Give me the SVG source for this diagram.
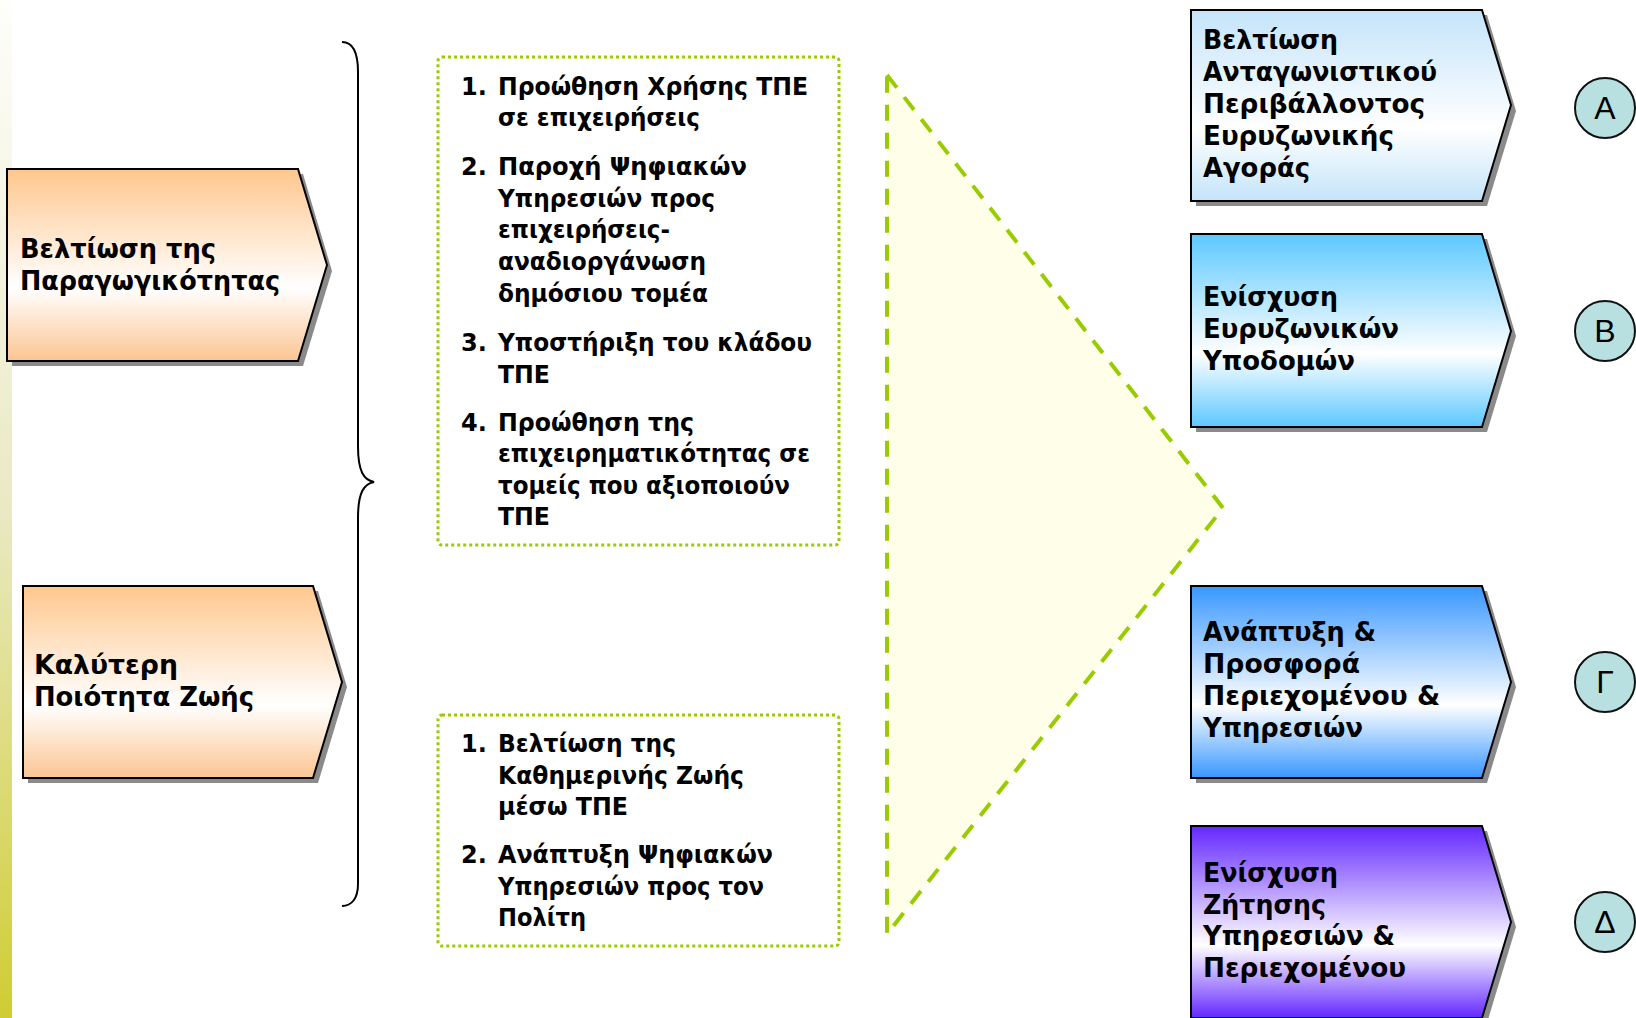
<svg xmlns="http://www.w3.org/2000/svg" width="1636" height="1018" viewBox="0 0 1636 1018">
  <defs>
    <linearGradient id="strip" x1="0" y1="0" x2="0" y2="1">
      <stop offset="0" stop-color="#fefefb"/>
      <stop offset="0.5" stop-color="#e9e9c4"/>
      <stop offset="1" stop-color="#cfcd32"/>
    </linearGradient>
    <linearGradient id="gOrange" x1="0" y1="0" x2="0" y2="1">
      <stop offset="0" stop-color="#ffc78e"/>
      <stop offset="0.62" stop-color="#ffffff"/>
      <stop offset="1" stop-color="#fcc592"/>
    </linearGradient>
    <linearGradient id="gA" x1="0" y1="0" x2="0" y2="1">
      <stop offset="0" stop-color="#c4e4fa"/>
      <stop offset="0.62" stop-color="#ffffff"/>
      <stop offset="1" stop-color="#c4e4fa"/>
    </linearGradient>
    <linearGradient id="gB" x1="0" y1="0" x2="0" y2="1">
      <stop offset="0" stop-color="#5cc8ff"/>
      <stop offset="0.62" stop-color="#ffffff"/>
      <stop offset="1" stop-color="#5cc8ff"/>
    </linearGradient>
    <linearGradient id="gC" x1="0" y1="0" x2="0" y2="1">
      <stop offset="0" stop-color="#3897ff"/>
      <stop offset="0.62" stop-color="#ffffff"/>
      <stop offset="1" stop-color="#3897ff"/>
    </linearGradient>
    <linearGradient id="gD" x1="0" y1="0" x2="0" y2="1">
      <stop offset="0" stop-color="#6428ff"/>
      <stop offset="0.62" stop-color="#ffffff"/>
      <stop offset="1" stop-color="#6428ff"/>
    </linearGradient>
  </defs>
  <style>
    .lbl { font-family: "DejaVu Sans", Verdana, sans-serif; font-weight: bold; font-size: 26px; fill: #000; }
    .li { font-family: "DejaVu Sans", Verdana, sans-serif; font-weight: bold; font-size: 24px; fill: #000; }
    .shadow { fill: #8a8a8a; }
    .shape { stroke: #000; stroke-width: 2; stroke-linejoin: miter; }
    .dotbox { fill: none; stroke: #99cc00; stroke-width: 3; stroke-dasharray: 3 3; }
    .circ { fill: #b8e0e0; stroke: #111; stroke-width: 2; }
    .circTxt { font-family: "Liberation Sans", Arial, sans-serif; font-size: 32px; fill: #000; text-anchor: middle; }
  </style>

  <rect x="0" y="0" width="12" height="1018" fill="url(#strip)"/>

  <g id="node-paragogikotita">
    <polygon class="shadow" points="12,174 303,174 332,271 303,366 12,366"/>
    <polygon class="shape" fill="url(#gOrange)" points="7,169 298,169 327,265 298,361 7,361"/>
    <text class="lbl" x="20" y="258" textLength="196" lengthAdjust="spacingAndGlyphs">Βελτίωση της</text>
    <text class="lbl" x="20" y="290" textLength="260" lengthAdjust="spacingAndGlyphs">Παραγωγικότητας</text>
  </g>

  <g id="node-poiotita-zois">
    <polygon class="shadow" points="28,591 318,591 347,687 318,783 28,783"/>
    <polygon class="shape" fill="url(#gOrange)" points="23,586 313,586 342,682 313,778 23,778"/>
    <text class="lbl" x="34" y="674" textLength="144" lengthAdjust="spacingAndGlyphs">Καλύτερη</text>
    <text class="lbl" x="34" y="706" textLength="220" lengthAdjust="spacingAndGlyphs">Ποιότητα Ζωής</text>
  </g>

  <g id="connectors">
    <path d="M342,42 C352,42 358,50 358,72 L358,446 C358,472 364,480 374,482 C364,484 358,492 358,518 L358,884 C358,898 352,906 342,906" fill="none" stroke="#000" stroke-width="2"/>
  </g>

  <g id="node-list-1">
    <rect class="dotbox" x="438" y="57" width="401" height="488" rx="4"/>
    <text class="li" x="461" y="95">1.</text>
    <text class="li" x="498" y="95" textLength="310" lengthAdjust="spacingAndGlyphs">Προώθηση Χρήσης ΤΠΕ</text>
    <text class="li" x="498" y="126" textLength="202" lengthAdjust="spacingAndGlyphs">σε επιχειρήσεις</text>
    <text class="li" x="461" y="175">2.</text>
    <text class="li" x="498" y="175" textLength="249" lengthAdjust="spacingAndGlyphs">Παροχή Ψηφιακών</text>
    <text class="li" x="498" y="207" textLength="217" lengthAdjust="spacingAndGlyphs">Υπηρεσιών προς</text>
    <text class="li" x="498" y="238" textLength="172" lengthAdjust="spacingAndGlyphs">επιχειρήσεις-</text>
    <text class="li" x="498" y="270" textLength="208" lengthAdjust="spacingAndGlyphs">αναδιοργάνωση</text>
    <text class="li" x="498" y="302" textLength="210" lengthAdjust="spacingAndGlyphs">δημόσιου τομέα</text>
    <text class="li" x="461" y="351">3.</text>
    <text class="li" x="498" y="351" textLength="314" lengthAdjust="spacingAndGlyphs">Υποστήριξη του κλάδου</text>
    <text class="li" x="498" y="383" textLength="52" lengthAdjust="spacingAndGlyphs">ΤΠΕ</text>
    <text class="li" x="461" y="431">4.</text>
    <text class="li" x="498" y="431" textLength="196" lengthAdjust="spacingAndGlyphs">Προώθηση της</text>
    <text class="li" x="498" y="462" textLength="312" lengthAdjust="spacingAndGlyphs">επιχειρηματικότητας σε</text>
    <text class="li" x="498" y="494" textLength="292" lengthAdjust="spacingAndGlyphs">τομείς που αξιοποιούν</text>
    <text class="li" x="498" y="525" textLength="52" lengthAdjust="spacingAndGlyphs">ΤΠΕ</text>
  </g>

  <g id="node-list-2">
    <rect class="dotbox" x="438" y="715" width="401" height="231" rx="4"/>
    <text class="li" x="461" y="752">1.</text>
    <text class="li" x="498" y="752" textLength="178" lengthAdjust="spacingAndGlyphs">Βελτίωση της</text>
    <text class="li" x="498" y="784" textLength="246" lengthAdjust="spacingAndGlyphs">Καθημερινής Ζωής</text>
    <text class="li" x="498" y="815" textLength="130" lengthAdjust="spacingAndGlyphs">μέσω ΤΠΕ</text>
    <text class="li" x="461" y="863">2.</text>
    <text class="li" x="498" y="863" textLength="275" lengthAdjust="spacingAndGlyphs">Ανάπτυξη Ψηφιακών</text>
    <text class="li" x="498" y="895" textLength="266" lengthAdjust="spacingAndGlyphs">Υπηρεσιών προς τον</text>
    <text class="li" x="498" y="926" textLength="88" lengthAdjust="spacingAndGlyphs">Πολίτη</text>
  </g>

  <g id="node-triangle">
    <polygon points="887,75 1223,508 887,934" fill="#fefee9" stroke="#99cc00" stroke-width="4" stroke-dasharray="16 12"/>
  </g>

  <g id="node-A">
    <polygon class="shadow" points="1196,15 1487,15 1516,111 1487,206 1196,206"/>
    <polygon class="shape" fill="url(#gA)" points="1191,10 1482,10 1511,105 1482,201 1191,201"/>
    <text class="lbl" x="1203" y="49" textLength="135" lengthAdjust="spacingAndGlyphs">Βελτίωση</text>
    <text class="lbl" x="1203" y="81" textLength="234" lengthAdjust="spacingAndGlyphs">Ανταγωνιστικού</text>
    <text class="lbl" x="1203" y="113" textLength="222" lengthAdjust="spacingAndGlyphs">Περιβάλλοντος</text>
    <text class="lbl" x="1203" y="145" textLength="191" lengthAdjust="spacingAndGlyphs">Ευρυζωνικής</text>
    <text class="lbl" x="1203" y="177" textLength="107" lengthAdjust="spacingAndGlyphs">Αγοράς</text>
  </g>
  <g id="circle-A">
    <circle class="circ" cx="1605" cy="108" r="30"/>
    <text class="circTxt" x="1605" y="119">Α</text>
  </g>

  <g id="node-B">
    <polygon class="shadow" points="1196,239 1487,239 1516,336 1487,432 1196,432"/>
    <polygon class="shape" fill="url(#gB)" points="1191,234 1482,234 1511,331 1482,427 1191,427"/>
    <text class="lbl" x="1203" y="306" textLength="135" lengthAdjust="spacingAndGlyphs">Ενίσχυση</text>
    <text class="lbl" x="1203" y="338" textLength="196" lengthAdjust="spacingAndGlyphs">Ευρυζωνικών</text>
    <text class="lbl" x="1203" y="370" textLength="152" lengthAdjust="spacingAndGlyphs">Υποδομών</text>
  </g>
  <g id="circle-B">
    <circle class="circ" cx="1605" cy="331" r="30"/>
    <text class="circTxt" x="1605" y="342">Β</text>
  </g>

  <g id="node-C">
    <polygon class="shadow" points="1196,591 1487,591 1516,687 1487,783 1196,783"/>
    <polygon class="shape" fill="url(#gC)" points="1191,586 1482,586 1511,682 1482,778 1191,778"/>
    <text class="lbl" x="1203" y="641" textLength="173" lengthAdjust="spacingAndGlyphs">Ανάπτυξη &amp;</text>
    <text class="lbl" x="1203" y="673" textLength="157" lengthAdjust="spacingAndGlyphs">Προσφορά</text>
    <text class="lbl" x="1203" y="705" textLength="237" lengthAdjust="spacingAndGlyphs">Περιεχομένου &amp;</text>
    <text class="lbl" x="1203" y="737" textLength="160" lengthAdjust="spacingAndGlyphs">Υπηρεσιών</text>
  </g>
  <g id="circle-C">
    <circle class="circ" cx="1605" cy="682" r="30"/>
    <text class="circTxt" x="1605" y="693">Γ</text>
  </g>

  <g id="node-D">
    <polygon class="shadow" points="1196,831 1487,831 1516,927 1487,1023 1196,1023"/>
    <polygon class="shape" fill="url(#gD)" points="1191,826 1482,826 1511,922 1482,1018 1191,1018"/>
    <text class="lbl" x="1203" y="882" textLength="135" lengthAdjust="spacingAndGlyphs">Ενίσχυση</text>
    <text class="lbl" x="1203" y="914" textLength="123" lengthAdjust="spacingAndGlyphs">Ζήτησης</text>
    <text class="lbl" x="1203" y="945" textLength="192" lengthAdjust="spacingAndGlyphs">Υπηρεσιών &amp;</text>
    <text class="lbl" x="1203" y="977" textLength="203" lengthAdjust="spacingAndGlyphs">Περιεχομένου</text>
  </g>
  <g id="circle-D">
    <circle class="circ" cx="1605" cy="922" r="30"/>
    <text class="circTxt" x="1605" y="933">Δ</text>
  </g>
</svg>
